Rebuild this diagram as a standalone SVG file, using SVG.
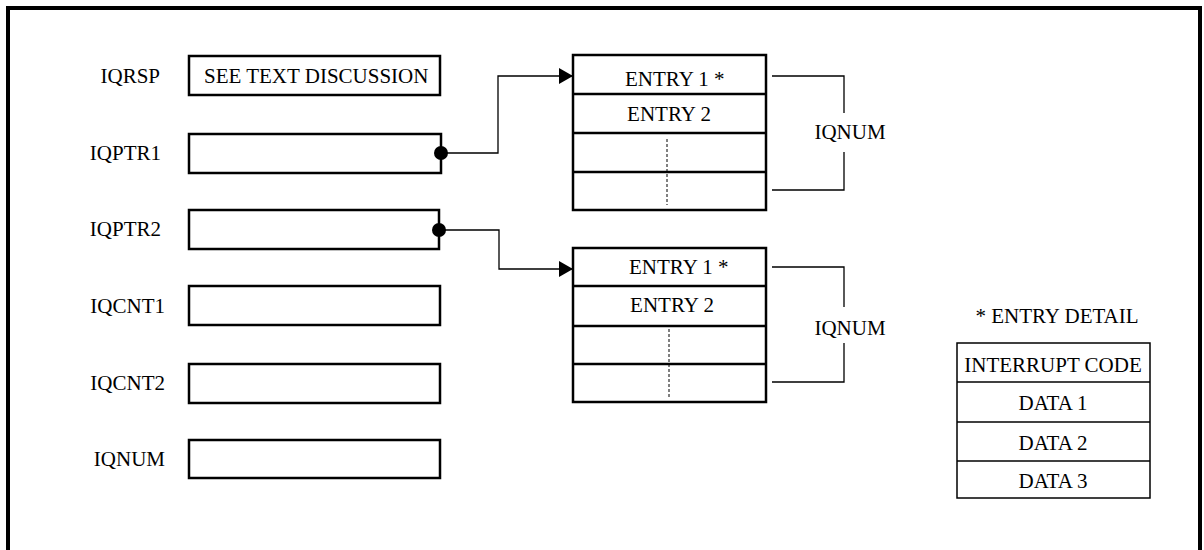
<svg xmlns="http://www.w3.org/2000/svg" width="1204" height="550" viewBox="0 0 1204 550">
<style>
text{font-family:"Liberation Serif","Times New Roman",serif;font-size:21px;fill:#000}
.lbl{text-anchor:end}
.c{text-anchor:middle}
.box{fill:#fff;stroke:#000;stroke-width:2.5}
.row{fill:none;stroke:#000;stroke-width:2.5}
.thin{fill:none;stroke:#000;stroke-width:1.5}
.conn{fill:none;stroke:#000;stroke-width:1.3}
.dash{stroke:#000;stroke-width:1;stroke-dasharray:3 2}
</style>
<defs>
<marker id="arr" markerWidth="14" markerHeight="16" refX="14" refY="8" orient="auto" markerUnits="userSpaceOnUse">
<path d="M0,0 L14,8 L0,16 Z" fill="#000"/>
</marker>
</defs>
<rect x="0" y="0" width="1204" height="550" fill="#fff"/>
<rect x="8" y="8" width="1192" height="560" fill="none" stroke="#000" stroke-width="4"/>

<g id="iqrsp">
<text class="lbl" x="160" y="83">IQRSP</text>
<rect class="box" x="189" y="56" width="251" height="39"/>
<text x="204" y="83">SEE TEXT DISCUSSION</text>
</g>
<g id="iqptr1">
<text class="lbl" x="161" y="160">IQPTR1</text>
<rect class="box" x="189" y="134" width="252" height="39"/>
</g>
<g id="iqptr2">
<text class="lbl" x="161" y="236">IQPTR2</text>
<rect class="box" x="189" y="210" width="250" height="39"/>
</g>
<g id="iqcnt1">
<text class="lbl" x="165" y="313">IQCNT1</text>
<rect class="box" x="189" y="286" width="251" height="39"/>
</g>
<g id="iqcnt2">
<text class="lbl" x="165" y="390">IQCNT2</text>
<rect class="box" x="189" y="364" width="251" height="39"/>
</g>
<g id="iqnum">
<text class="lbl" x="165" y="466">IQNUM</text>
<rect class="box" x="189" y="440" width="251" height="38"/>
</g>

<g id="queue1">
<rect class="row" x="573" y="55" width="193" height="155"/>
<line class="row" x1="573" y1="94" x2="766" y2="94"/>
<line class="row" x1="573" y1="133" x2="766" y2="133"/>
<line class="row" x1="573" y1="172" x2="766" y2="172"/>
<line class="dash" x1="667" y1="139" x2="667" y2="205"/>
<text x="625" y="86">ENTRY 1 *</text>
<text class="c" x="669" y="121">ENTRY 2</text>
</g>
<g id="bracket1">
<path class="conn" d="M772,76 H844 V113 M844,152 V190 H772"/>
<text class="c" x="850" y="139">IQNUM</text>
</g>

<g id="queue2">
<rect class="row" x="573" y="248" width="193" height="154"/>
<line class="row" x1="573" y1="286" x2="766" y2="286"/>
<line class="row" x1="573" y1="326" x2="766" y2="326"/>
<line class="row" x1="573" y1="364" x2="766" y2="364"/>
<line class="dash" x1="669" y1="329" x2="669" y2="399"/>
<text x="629" y="274">ENTRY 1 *</text>
<text class="c" x="672" y="312">ENTRY 2</text>
</g>
<g id="bracket2">
<path class="conn" d="M772,267 H844 V307 M844,343 V382 H772"/>
<text class="c" x="850" y="335">IQNUM</text>
</g>

<g id="entrydetail">
<text class="c" x="1057" y="323">* ENTRY DETAIL</text>
<rect class="thin" x="957" y="343" width="193" height="155"/>
<line class="thin" x1="957" y1="382" x2="1150" y2="382"/>
<line class="thin" x1="957" y1="422" x2="1150" y2="422"/>
<line class="thin" x1="957" y1="461" x2="1150" y2="461"/>
<text class="c" x="1053" y="372">INTERRUPT CODE</text>
<text class="c" x="1053" y="410">DATA 1</text>
<text class="c" x="1053" y="450">DATA 2</text>
<text class="c" x="1053" y="488">DATA 3</text>
</g>

<g id="connectors">
<circle cx="441" cy="153" r="7" fill="#000"/>
<path class="conn" d="M441,153 H498 V76 H573" marker-end="url(#arr)"/>
<circle cx="439" cy="230" r="7" fill="#000"/>
<path class="conn" d="M439,230 H499 V269 H573" marker-end="url(#arr)"/>
</g>
</svg>
